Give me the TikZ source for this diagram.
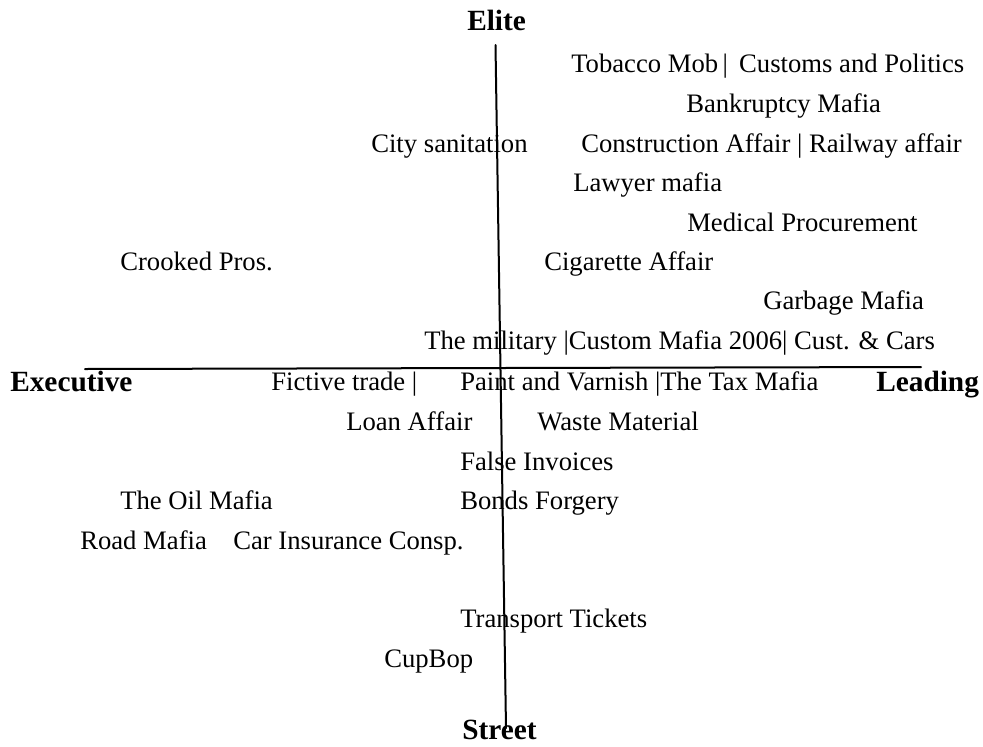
\documentclass[tikz,border=0pt]{standalone}
\usepackage{fontspec}
\setmainfont{Liberation Serif}
\begin{document}
\begin{tikzpicture}[x=0.75pt,y=-0.75pt,line cap=round,line join=round,
  item/.style={anchor=base west,inner sep=0pt,font=\fontsize{20}{24}\selectfont},
  pole/.style={anchor=base west,inner sep=0pt,font=\fontsize{22}{26}\selectfont\bfseries}]
\useasboundingbox (0,0) rectangle (983,747);

% ends of the two axes
\coordinate (top) at (495.5,45);
\coordinate (bot) at (506,728);
\coordinate (lft) at (85,369);
\coordinate (rgt) at (921,367);

% axes
\draw[line width=1.5pt] (top) -- (bot);
\draw[line width=1.5pt] (lft) -- (rgt);

% poles
\node[pole] (elite) at (467,30) {Elite};
\node[pole] (street) at (462,739) {Street};
\node[pole] (exec) at (10,391) {Executive};
\node[pole] (lead) at (876,391) {Leading};

% upper half
\node[item] (tobacco) at (571,72) {Tobacco Mob\,|\, Customs and Politics};
\node[item] (bankr) at (686,112) {Bankruptcy Mafia};
\node[item] (city) at (371,152) {City sanitation};
\node[item] (constr) at (581,152) {Construction Affair | Railway affair};
\node[item] (lawyer) at (573,191) {Lawyer mafia};
\node[item] (medic) at (687,231) {Medical Procurement};
\node[item] (crooked) at (120,270) {Crooked Pros.};
\node[item] (cigar) at (544,270) {Cigarette Affair};
\node[item] (garbage) at (763,309) {Garbage Mafia};
\node[item] (military) at (424,349) {The military |Custom Mafia 2006| Cust. \& Cars};

% lower half
\node[item] (fictive) at (271,390) {Fictive trade |};
\node[item] (paint) at (460,390) {Paint and Varnish |The Tax Mafia};
\node[item] (loan) at (346,430) {Loan Affair};
\node[item] (waste) at (537,430) {Waste Material};
\node[item] (invoices) at (460,470) {False Invoices};
\node[item] (oil) at (120,509) {The Oil Mafia};
\node[item] (bonds) at (460,509) {Bonds Forgery};
\node[item] (road) at (80,549) {Road Mafia};
\node[item] (carins) at (233,549) {Car Insurance Consp.};
\node[item] (transp) at (460,627) {Transport Tickets};
\node[item] (cupbop) at (384,667) {CupBop};

\end{tikzpicture}
\end{document}
